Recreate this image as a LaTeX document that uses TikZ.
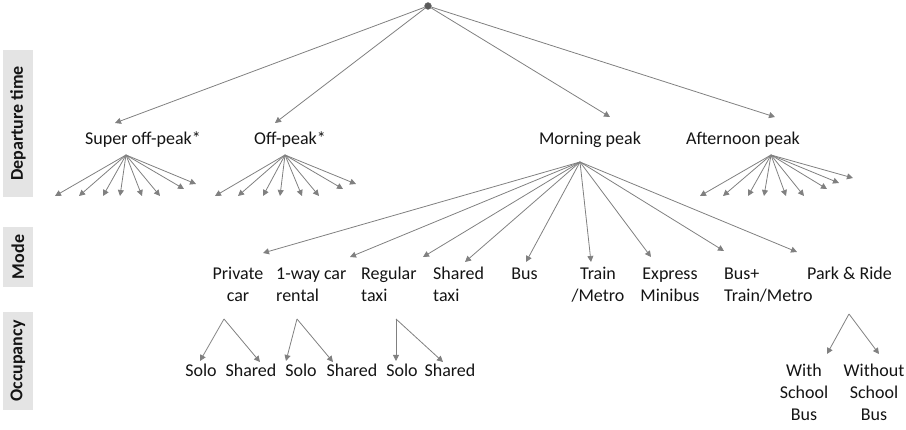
\documentclass[tikz,border=0pt]{standalone}
\usepackage{fontspec}
\setmainfont{Carlito}
\usetikzlibrary{arrows.meta}
\definecolor{linegray}{RGB}{128,128,128}
\definecolor{boxgray}{RGB}{228,228,228}
\definecolor{txt}{RGB}{20,20,20}
\tikzset{
  arr/.style={draw=linegray, line width=0.8pt, -{Triangle[length=6pt,width=6pt]}},
  lbl/.style={text=txt, inner sep=0pt, anchor=base, align=center,
    font=\fontsize{18}{22}\selectfont},
  lbll/.style={lbl, anchor=base west, align=left},
  side/.style={rotate=90, fill=boxgray, text=txt, inner sep=0pt,
    minimum height=30pt, font=\fontsize{18}{20}\selectfont\bfseries}
}
\begin{document}
\begin{tikzpicture}[x=1pt,y=-1pt]
\useasboundingbox (0,0) rectangle (906,430);
% side labels
\node[side, minimum width=147pt] (dep) at (18,123.5) {Departure time};
\node[side, minimum width=60pt] (mode) at (18,257) {Mode};
\node[side, minimum width=98pt] (occ) at (18,361) {Occupancy};
% root
\node[circle, fill=black!65, draw=linegray, inner sep=0pt, minimum size=7pt] (root) at (428,6) {};
% departure time
\node[lbl] (sop) at (143,145) {Super off-peak*};
\node[lbl] (op) at (290,145) {Off-peak*};
\node[lbl] (mp) at (590,145) {Morning peak};
\node[lbl] (ap) at (743,145) {Afternoon peak};
\coordinate (sop-in) at (115,123);
\coordinate (op-in) at (275,123);
\coordinate (mp-in) at (610,117);
\coordinate (ap-in) at (775,117);
\foreach \t in {sop,op,mp,ap}
  \draw[arr] (root) -- (\t-in);
% fans below the off-peak groups
\coordinate (sop-out) at (126,155);
\coordinate (op-out) at (285,155);
\coordinate (ap-out) at (771,155);
\foreach \x/\y [count=\i] in {55/196,79/196,103/196,120/196,142/196,160/196,184/189,196/184} {
  \coordinate (sop-\i) at (\x,\y);
  \draw[arr] (sop-out) -- (sop-\i);
}
\foreach \x/\y [count=\i] in {215/196,238/196,263/196,280/196,302/196,319/196,343/189,356/184} {
  \coordinate (op-\i) at (\x,\y);
  \draw[arr] (op-out) -- (op-\i);
}
\foreach \x/\y [count=\i] in {700/196,723/196,748/196,764/196,786/196,804/196,827/189,839/183,853/178} {
  \coordinate (ap-\i) at (\x,\y);
  \draw[arr] (ap-out) -- (ap-\i);
}
% modes (base = last line)
\node[lbl] (private) at (238,302) {Private\\car};
\node[lbll] (oneway) at (276,302) {1-way car\\rental};
\node[lbll] (regular) at (361,302) {Regular\\taxi};
\node[lbll] (shtaxi) at (433,302) {Shared\\taxi};
\node[lbl] (bus) at (524.5,280) {Bus};
\node[lbl] (train) at (598,302) {Train\\/Metro};
\node[lbl] (express) at (670,302) {Express\\Minibus};
\node[lbll] (busplus) at (724,302) {Bus+\\Train/Metro};
\node[lbl] (park) at (849.5,280) {Park \& Ride};
\coordinate (mp-out) at (580,162);
\foreach \m/\x/\y in {private/263/253,oneway/350/257,regular/423/257,shtaxi/465/262,
    bus/526/262,train/591/262,express/651/257,busplus/724/251,park/797/252} {
  \coordinate (\m-in) at (\x,\y);
  \draw[arr] (mp-out) -- (\m-in);
}
% occupancy
\node[lbl] (solo1) at (201,377) {Solo};
\node[lbl] (shared1) at (251,377) {Shared};
\node[lbl] (solo2) at (301,377) {Solo};
\node[lbl] (shared2) at (352,377) {Shared};
\node[lbl] (solo3) at (402,377) {Solo};
\node[lbl] (shared3) at (450,377) {Shared};
\node[lbl] (withsb) at (804,421) {With\\School\\Bus};
\node[lbl] (withoutsb) at (874,421) {Without\\School\\Bus};
\coordinate (private-out) at (224,319);
\coordinate (oneway-out) at (297,319);
\coordinate (regular-out) at (396,319);
\coordinate (park-out) at (849,314);
\coordinate (solo1-in) at (200,361);
\coordinate (shared1-in) at (260,362);
\coordinate (solo2-in) at (286,361);
\coordinate (shared2-in) at (333,362);
\coordinate (solo3-in) at (396,361);
\coordinate (shared3-in) at (443,362);
\coordinate (withsb-in) at (827,354);
\coordinate (withoutsb-in) at (879,354);
\draw[arr] (private-out) -- (solo1-in);
\draw[arr] (private-out) -- (shared1-in);
\draw[arr] (oneway-out) -- (solo2-in);
\draw[arr] (oneway-out) -- (shared2-in);
\draw[arr] (regular-out) -- (solo3-in);
\draw[arr] (regular-out) -- (shared3-in);
\draw[arr] (park-out) -- (withsb-in);
\draw[arr] (park-out) -- (withoutsb-in);
\end{tikzpicture}
\end{document}
